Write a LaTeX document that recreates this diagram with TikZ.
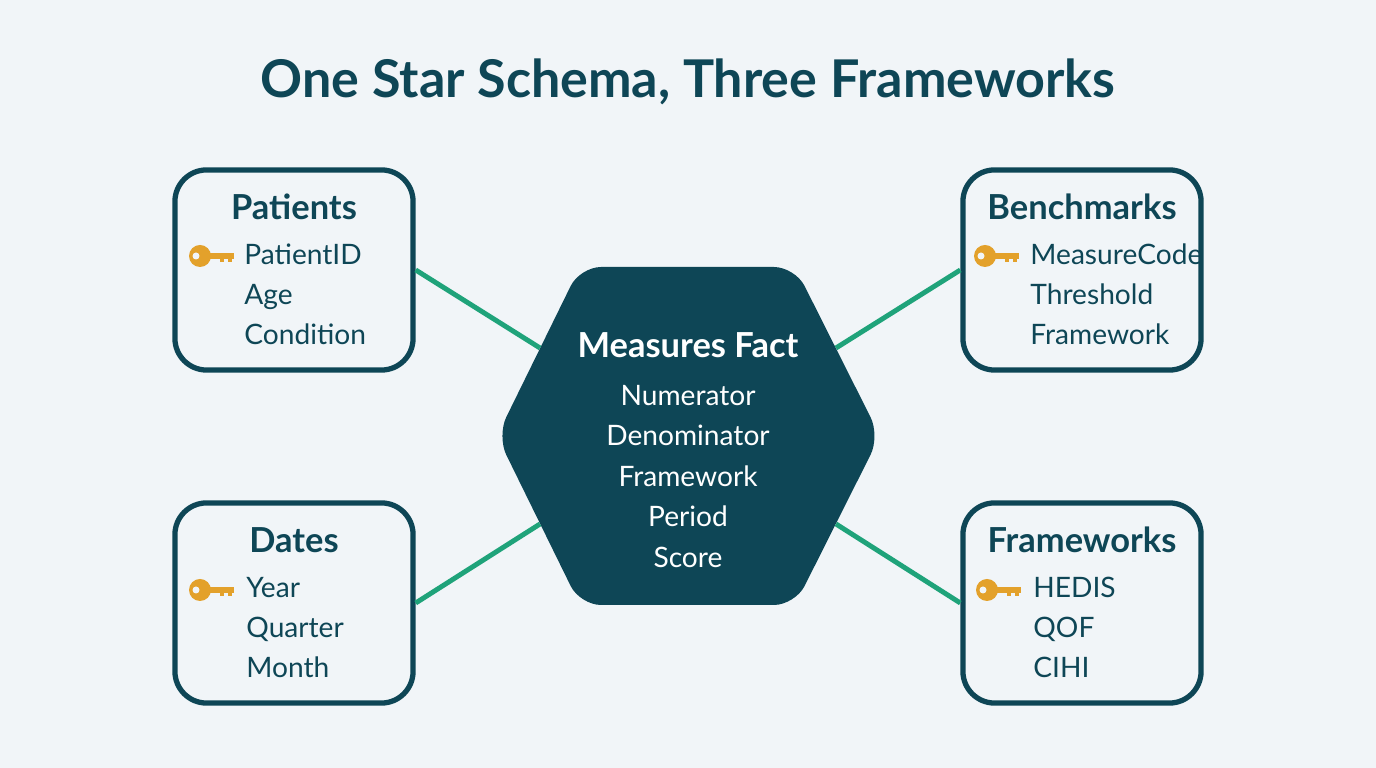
\documentclass[tikz,border=0pt]{standalone}
\usepackage{fontspec}
\setmainfont{Lato}
\usetikzlibrary{positioning,calc}
\definecolor{teal}{HTML}{0E4656}
\definecolor{link}{HTML}{1FA37A}
\definecolor{gold}{HTML}{E3A12B}
\definecolor{bg}{HTML}{F1F5F8}
\tikzset{
  dim/.style={draw=teal, line width=1.5pt, rounded corners=9pt, fill=bg,
    minimum width=2.38cm, minimum height=2cm},
  head/.style={font=\fontsize{9.8}{12}\selectfont\bfseries, text=teal, anchor=base},
  field/.style={font=\fontsize{8}{10}\selectfont, text=teal, anchor=base west},
  link/.style={draw=link, line width=1.4pt},
}
\newcommand{\keyicon}[1]{%
  \fill[gold] (#1) circle (11);
  \fill[gold] ($(#1)+(0,-3)$) rectangle ($(#1)+(34,3)$);
  \fill[gold] ($(#1)+(20,0)$) rectangle ($(#1)+(24,6)$);
  \fill[gold] ($(#1)+(28,0)$) rectangle ($(#1)+(32,6)$);
  \fill[bg] ($(#1)+(-4,0)$) circle (3.5);
}
\begin{document}
\begin{tikzpicture}[x=0.01cm,y=-0.01cm]
\fill[bg] (0,0) rectangle (1376,768);
\useasboundingbox (0,0) rectangle (1376,768);
\node[font=\fontsize{14.8}{17}\selectfont\bfseries, text=teal] (title) at (688,82) {One Star Schema, Three Frameworks};
% dimension tables
\node[dim] (pat) at (294,270) {};
\node[dim] (bench) at (1082,270) {};
\node[dim] (date) at (294,603) {};
\node[dim] (frame) at (1082,603) {};
% fact hexagon
\fill[teal, rounded corners=6pt] (497,436) -- (580,267) -- (795,267) -- (880,436) -- (795,605) -- (580,605) -- cycle;
\coordinate (hul) at (540,348);
\coordinate (hur) at (836,348);
\coordinate (hll) at (540,524);
\coordinate (hlr) at (836,524);
\path[link] (pat.east) -- (hul);
\path[link] (bench.west) -- (hur);
\path[link] (date.east) -- (hll);
\path[link] (frame.west) -- (hlr);
\node[head, text=white] (fact) at (688,358) {Measures Fact};
\foreach \t [count=\i] in {Numerator,Denominator,Framework,Period,Score}
  \node[font=\fontsize{8}{10}\selectfont, text=white, anchor=base] (f\i) at (688,365+\i*40.5) {\t};
% Patients
\node[head] (patH) at (294,220) {Patients};
\foreach \t [count=\i] in {PatientID,Age,Condition}
  \node[field] (pat\i) at (232,225+\i*40) {\t};
\keyicon{200,256}
% Benchmarks
\node[head] (benchH) at (1082,220) {Benchmarks};
\foreach \t [count=\i] in {MeasureCode,Threshold,Framework}
  \node[field] (bench\i) at (1018,225+\i*40) {\t};
\keyicon{985,256}
% Dates
\node[head] (dateH) at (294,553) {Dates};
\foreach \t [count=\i] in {Year,Quarter,Month}
  \node[field] (date\i) at (234,558+\i*40) {\t};
\keyicon{200,590}
% Frameworks
\node[head] (frameH) at (1082,553) {Frameworks};
\foreach \t [count=\i] in {HEDIS,QOF,CIHI}
  \node[field] (frame\i) at (1021,558+\i*40) {\t};
\keyicon{987,590}
\end{tikzpicture}
\end{document}
